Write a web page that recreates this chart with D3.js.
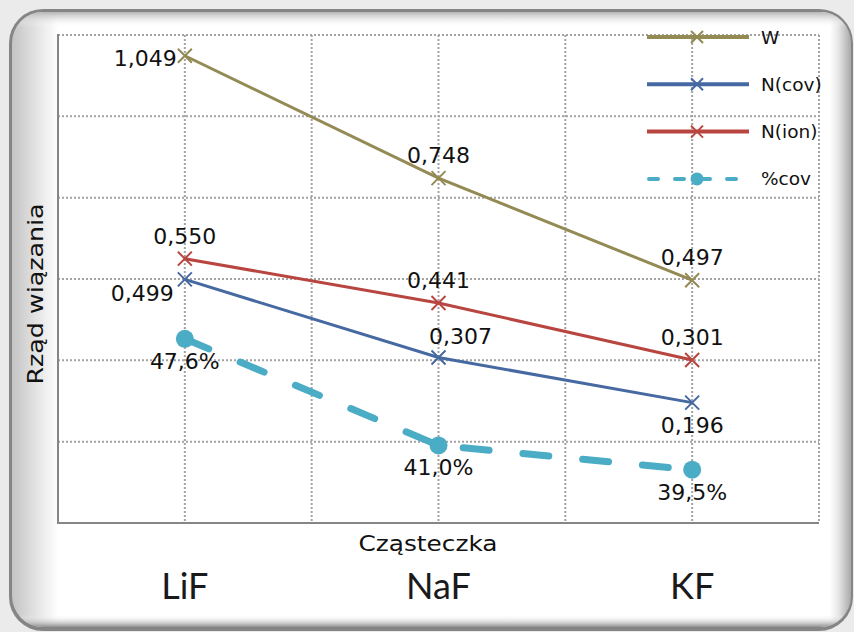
<!DOCTYPE html>
<html>
<head>
<meta charset="utf-8">
<script src="https://cdn.jsdelivr.net/npm/d3@7"></script>
<style>
  body { margin: 0; background: #ebebeb; }
  svg { display: block; }
</style>
</head>
<body>
<script>
// chart values
var categories = ["LiF", "NaF", "KF"];
var wValues = [1.049, 0.748, 0.497];
var nCovValues = [0.499, 0.307, 0.196];
var nIonValues = [0.550, 0.441, 0.301];
var covValues = [47.6, 41.0, 39.5];
var legendNames = ["W", "N(cov)", "N(ion)", "%cov"];
var yGridValues = [-0.1, 0.1, 0.3, 0.5, 0.7, 0.9, 1.1];

var width = 854, height = 632;
var plot = {left: 58, right: 819, top: 35, bottom: 523};

var pl = d3.formatLocale({decimal: ",", thousands: " ", grouping: [3], currency: ["", " zł"]});
var fmtNum = pl.format(".3f");
var fmtPct = function (v) { return pl.format(".1f")(v) + "%"; };

var x = d3.scalePoint().domain(categories).range([plot.left, plot.right]).padding(0.5);
var y = d3.scaleLinear().domain([-0.1, 1.1]).range([plot.bottom, plot.top]);
var y2 = d3.scaleLinear().domain([36.2, 66.4]).range([plot.bottom, plot.top]);

var series = [
  {name: legendNames[0], values: wValues, color: "#948a54", scale: y, fmt: fmtNum, labels: ["left", "above", "above"]},
  {name: legendNames[1], values: nCovValues, color: "#4669a2", scale: y, fmt: fmtNum, labels: ["belowLeft", "aboveRight", "below"]},
  {name: legendNames[2], values: nIonValues, color: "#b8453f", scale: y, fmt: fmtNum, labels: ["above", "above", "above"]},
  {name: legendNames[3], values: covValues, color: "#4bacc6", scale: y2, fmt: fmtPct, labels: ["below", "below", "below"], dashed: true}
];

function labelOffset(pos) {
  if (pos == "left") return {dx: -8, dy: 10, anchor: "end"};
  if (pos == "above") return {dx: 0, dy: -15, anchor: "middle"};
  if (pos == "below") return {dx: 0, dy: 30, anchor: "middle"};
  if (pos == "belowLeft") return {dx: -11, dy: 22, anchor: "end"};
  if (pos == "aboveRight") return {dx: 22, dy: -13, anchor: "middle"};
  return {dx: 0, dy: 0, anchor: "middle"};
}

var svg = d3.select("body").append("svg")
  .attr("width", width)
  .attr("height", height);

// frame with bevel
var defs = svg.append("defs");
var gh = defs.append("linearGradient").attr("id", "bevelH").attr("x1", 0).attr("x2", 1).attr("y1", 0).attr("y2", 0);
gh.append("stop").attr("offset", "0").attr("stop-color", "#c4c4c4");
gh.append("stop").attr("offset", "0.055").attr("stop-color", "#ffffff");
gh.append("stop").attr("offset", "0.975").attr("stop-color", "#ffffff");
gh.append("stop").attr("offset", "0.985").attr("stop-color", "#e6e6e6");
gh.append("stop").attr("offset", "1").attr("stop-color", "#a9a9a9");
var gv = defs.append("linearGradient").attr("id", "bevelV").attr("x1", 0).attr("x2", 0).attr("y1", 0).attr("y2", 1);
gv.append("stop").attr("offset", "0").attr("stop-color", "#b5b5b5").attr("stop-opacity", 1);
gv.append("stop").attr("offset", "0.025").attr("stop-color", "#ffffff").attr("stop-opacity", 0);
gv.append("stop").attr("offset", "0.98").attr("stop-color", "#ffffff").attr("stop-opacity", 0);
gv.append("stop").attr("offset", "1").attr("stop-color", "#8f8f8f").attr("stop-opacity", 1);

svg.append("rect")
  .attr("x", 9).attr("y", 9).attr("width", 844).attr("height", 622)
  .attr("rx", 34).attr("ry", 34)
  .style("fill", "#858585");
svg.append("rect")
  .attr("x", 12).attr("y", 12).attr("width", 839).attr("height", 615)
  .attr("rx", 31).attr("ry", 31)
  .style("fill", "url(#bevelH)");
svg.append("rect")
  .attr("x", 12).attr("y", 12).attr("width", 839).attr("height", 615)
  .attr("rx", 31).attr("ry", 31)
  .style("fill", "url(#bevelV)");

// gridlines
var g = svg.append("g");
var step = x.step();
var vx = [];
categories.forEach(function (c, i) {
  if (i == 0) vx.push(x(c) - step / 2);
  vx.push(x(c));
  vx.push(x(c) + step / 2);
});

g.selectAll(".hgrid").data(yGridValues.slice(1)).enter()
  .append("line")
    .attr("class", "hgrid")
    .attr("x1", plot.left).attr("x2", plot.right)
    .attr("y1", function (d) { return y(d); })
    .attr("y2", function (d) { return y(d); })
    .style("stroke", "#a3a3a3")
    .style("stroke-width", 2)
    .style("stroke-dasharray", "2,2");
g.selectAll(".vgrid").data(vx.slice(1)).enter()
  .append("line")
    .attr("class", "vgrid")
    .attr("x1", function (d) { return d; })
    .attr("x2", function (d) { return d; })
    .attr("y1", plot.top).attr("y2", plot.bottom)
    .style("stroke", "#a3a3a3")
    .style("stroke-width", 2)
    .style("stroke-dasharray", "2,2");

// axes lines
g.append("line")
  .attr("x1", plot.left).attr("x2", plot.left)
  .attr("y1", plot.top - 1).attr("y2", plot.bottom + 1)
  .style("stroke", "#868686").style("stroke-width", 2);
g.append("line")
  .attr("x1", plot.left - 1).attr("x2", plot.right)
  .attr("y1", plot.bottom).attr("y2", plot.bottom)
  .style("stroke", "#868686").style("stroke-width", 2);

// category labels
svg.selectAll(".cat").data(categories).enter()
  .append("text")
    .attr("class", "cat")
    .attr("x", function (d) { return x(d); })
    .attr("y", 599)
    .attr("text-anchor", "middle")
    .attr("font-family", "Lato, sans-serif")
    .attr("font-size", "36px")
    .style("fill", "#1a1a1a")
    .text(function (d) { return d; });

// axis titles
svg.append("text")
  .attr("x", 428).attr("y", 551)
  .attr("text-anchor", "middle")
  .attr("font-family", "DejaVu Sans, sans-serif")
  .attr("font-size", "21px")
  .attr("textLength", 139)
  .attr("lengthAdjust", "spacingAndGlyphs")
  .style("fill", "#111")
  .text("Cząsteczka");
svg.append("text")
  .attr("transform", "translate(43,294) rotate(-90)")
  .attr("text-anchor", "middle")
  .attr("font-family", "DejaVu Sans, sans-serif")
  .attr("font-size", "21px")
  .attr("textLength", 181)
  .attr("lengthAdjust", "spacingAndGlyphs")
  .style("fill", "#111")
  .text("Rząd wiązania");

// series
function xMarker(sel, color, r) {
  sel.append("path")
    .attr("d", "M" + (-r) + "," + (-r) + "L" + r + "," + r + "M" + (-r) + "," + r + "L" + r + "," + (-r))
    .style("stroke", color)
    .style("stroke-width", 2)
    .style("fill", "none");
}

var line = d3.line();
series.forEach(function (s) {
  var pts = s.values.map(function (v, i) { return [x(categories[i]), s.scale(v)]; });
  var p = svg.append("path")
    .attr("d", line(pts))
    .style("fill", "none")
    .style("stroke", s.color);
  if (s.dashed) {
    p.style("stroke-width", 7)
      .style("stroke-dasharray", "26,34")
      .style("stroke-linecap", "round");
    svg.selectAll(".dot").data(pts).enter()
      .append("circle")
        .attr("cx", function (d) { return d[0]; })
        .attr("cy", function (d) { return d[1]; })
        .attr("r", 9)
        .style("fill", s.color);
  } else {
    p.style("stroke-width", 3);
    pts.forEach(function (d) {
      xMarker(svg.append("g").attr("transform", "translate(" + d[0] + "," + d[1] + ")"), s.color, 7);
    });
  }
});

// data labels
series.forEach(function (s) {
  s.values.forEach(function (v, i) {
    var o = labelOffset(s.labels[i]);
    svg.append("text")
      .attr("x", x(categories[i]) + o.dx)
      .attr("y", s.scale(v) + o.dy)
      .attr("text-anchor", o.anchor)
      .attr("font-family", "DejaVu Sans, sans-serif")
      .attr("font-size", "22px")
      .style("fill", "#111")
      .text(s.fmt(v));
  });
});

// legend
var legend = svg.append("g").attr("transform", "translate(647,37)");
var rowH = 47.3;
series.forEach(function (s, i) {
  var row = legend.append("g").attr("transform", "translate(0," + (i * rowH) + ")");
  var l = row.append("line")
    .attr("x1", 0).attr("x2", 102)
    .attr("y1", 0).attr("y2", 0)
    .style("stroke", s.color);
  if (s.dashed) {
    l.style("stroke-width", 4)
      .style("stroke-dasharray", "9,17")
      .style("stroke-linecap", "round")
      .attr("x1", 2).attr("x2", 100);
    row.append("circle").attr("cx", 50).attr("cy", 0).attr("r", 6.5).style("fill", s.color);
  } else {
    l.style("stroke-width", 4);
    xMarker(row.append("g").attr("transform", "translate(50,0)"), s.color, 6);
  }
  row.append("text")
    .attr("x", 114).attr("y", 6.5)
    .attr("font-family", "DejaVu Sans, sans-serif")
    .attr("font-size", "18.5px")
    .style("fill", "#111")
    .text(s.name);
});
</script>
</body>
</html>
